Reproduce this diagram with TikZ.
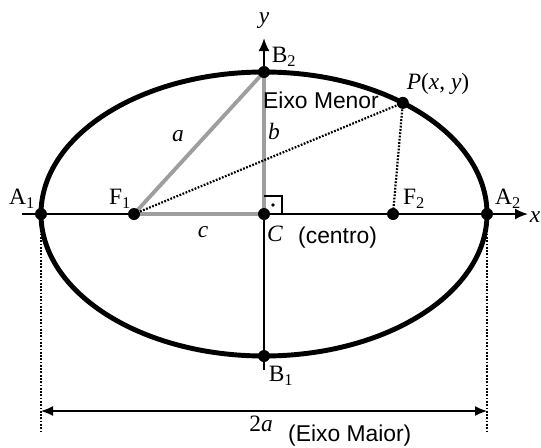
\documentclass[tikz,border=0pt]{standalone}
\usepackage{fontspec}
\setmainfont{Liberation Serif}
\setsansfont{Liberation Sans}
\usetikzlibrary{arrows.meta,calc}
\definecolor{CinzaTri}{RGB}{158,158,158}
\tikzset{
  rotulo/.style={font=\fontsize{20}{24}\selectfont, inner sep=0pt},
  texto/.style={font=\sffamily\fontsize{19.5}{24}\selectfont, inner sep=0pt},
  ponto/.style={fill=black},
  eixo/.style={line width=1.7pt,-{Latex[length=0.39cm,width=0.33cm]}},
  lado/.style={line width=3.3pt,CinzaTri},
  pontilhado/.style={line width=1.9pt,dash pattern=on 1.5pt off 1.3pt}
}

\begin{document}
\begin{tikzpicture}[x=0.03cm,y=-0.03cm,>=Latex]
  \useasboundingbox (0,0) rectangle (541,447);

  % pontos da elipse
  \coordinate (C) at (264,214);
  \coordinate (A1) at (41,214);
  \coordinate (A2) at (487,214);
  \coordinate (B1) at (264,356);
  \coordinate (B2) at (264,72);
  \coordinate (F1) at (134,214);
  \coordinate (F2) at (393,214);
  \coordinate (P) at ($(C)+({223*cos(51.5)},{-142*sin(51.5)})$);
  \coordinate (x0) at (22,214);
  \coordinate (x1) at (528,214);
  \coordinate (y0) at (264,370);
  \coordinate (y1) at (264,38);
  \coordinate (A1b) at (41,433);
  \coordinate (A2b) at (487,433);
  \coordinate (M1) at (41,411);
  \coordinate (M2) at (487,411);

  % eixos
  \draw[eixo] (x0) -- (x1);
  \draw[eixo] (y0) -- (y1);

  % triangulo a, b, c
  \draw[lado] (F1) -- (B2);
  \draw[lado] (F1) -- (C);
  \draw[lado] (C) -- (B2);
  \draw[line width=1pt] ($(C)+(0,-18)$) -- ($(C)+(18,-18)$) -- ($(C)+(18,0)$);
  \fill ($(C)+(9,-9)$) circle (1.8);

  % elipse
  \draw[line width=4.2pt] (C) ellipse [x radius=223, y radius=142];

  % distancias focais
  \draw[pontilhado] (F1) -- (P);
  \draw[pontilhado] (P) -- (F2);

  % eixo maior
  \draw[pontilhado] (A1) -- (A1b);
  \draw[pontilhado] (A2) -- (A2b);
  \draw[line width=1.3pt,{Latex[length=0.36cm,width=0.3cm]}-{Latex[length=0.36cm,width=0.3cm]}] (M1) -- (M2);

  \foreach \p in {A1,A2,B1,B2,F1,F2,C,P}
    \fill[ponto] (\p) circle (6);

  % rotulos
  \node[rotulo] (ly) at (264,21) {\textit{y}};
  \node[rotulo] (lx) at (535,217) {\textit{x}};
  \node[rotulo] (lB2) at (284,57) {B\textsubscript{2}};
  \node[rotulo] (lB1) at (281,376) {B\textsubscript{1}};
  \node[rotulo] (lA1) at (22,199) {A\textsubscript{1}};
  \node[rotulo] (lA2) at (508,199) {A\textsubscript{2}};
  \node[rotulo] (lF1) at (120,199) {F\textsubscript{1}};
  \node[rotulo] (lF2) at (414,199) {F\textsubscript{2}};
  \node[rotulo] (lP) at (438,84) {\textit{P}(\textit{x}, \textit{y})};
  \node[rotulo] (la) at (178,136) {\textit{a}};
  \node[rotulo] (lb) at (274,131) {\textit{b}};
  \node[rotulo] (lc) at (203,232) {\textit{c}};
  \node[rotulo] (lC) at (275,234) {\textit{C}};
  \node[rotulo] (l2a) at (261,424) {2\textit{a}};
  \node[texto,anchor=west] (lmenor) at (263,100) {Eixo Menor};
  \node[texto,anchor=west] (lcentro) at (298,238) {(centro)};
  \node[texto,anchor=west] (lmaior) at (288,436) {(Eixo Maior)};
\end{tikzpicture}
\end{document}
